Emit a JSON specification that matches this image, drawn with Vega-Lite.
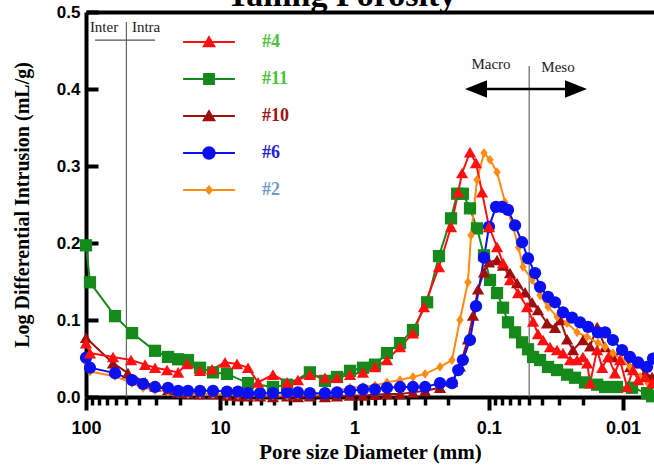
{
  "$schema": "https://vega.github.io/schema/vega-lite/v6.json",
  "width": 568,
  "height": 385,
  "autosize": {"type": "none"},
  "padding": {"left": 86, "top": 12, "right": 0, "bottom": 71},
  "config": {
    "view": {"stroke": null},
    "axis": {"grid": false}
  },
  "datasets": {
    "series": [
      {"s": "#11", "d": 100, "v": 0.197}, {"s": "#11", "d": 93.4, "v": 0.149}, {"s": "#11", "d": 60.8, "v": 0.105}, {"s": "#11", "d": 45.4, "v": 0.083},
      {"s": "#11", "d": 30.6, "v": 0.06}, {"s": "#11", "d": 24.5, "v": 0.052}, {"s": "#11", "d": 20.6, "v": 0.049}, {"s": "#11", "d": 17.4, "v": 0.048},
      {"s": "#11", "d": 14.15, "v": 0.038}, {"s": "#11", "d": 11.32, "v": 0.032}, {"s": "#11", "d": 8.91, "v": 0.03}, {"s": "#11", "d": 6.21, "v": 0.018},
      {"s": "#11", "d": 4.05, "v": 0.013}, {"s": "#11", "d": 3.18, "v": 0.016}, {"s": "#11", "d": 2.15, "v": 0.032}, {"s": "#11", "d": 1.66, "v": 0.021},
      {"s": "#11", "d": 1.35, "v": 0.026}, {"s": "#11", "d": 1.08, "v": 0.034}, {"s": "#11", "d": 0.865, "v": 0.038}, {"s": "#11", "d": 0.704, "v": 0.042},
      {"s": "#11", "d": 0.573, "v": 0.057}, {"s": "#11", "d": 0.458, "v": 0.07}, {"s": "#11", "d": 0.367, "v": 0.087}, {"s": "#11", "d": 0.288, "v": 0.123},
      {"s": "#11", "d": 0.235, "v": 0.183}, {"s": "#11", "d": 0.191, "v": 0.232}, {"s": "#11", "d": 0.172, "v": 0.264}, {"s": "#11", "d": 0.156, "v": 0.264},
      {"s": "#11", "d": 0.138, "v": 0.245}, {"s": "#11", "d": 0.1224, "v": 0.219}, {"s": "#11", "d": 0.1085, "v": 0.184}, {"s": "#11", "d": 0.0979, "v": 0.152},
      {"s": "#11", "d": 0.0868, "v": 0.135}, {"s": "#11", "d": 0.0783, "v": 0.116}, {"s": "#11", "d": 0.0719, "v": 0.097}, {"s": "#11", "d": 0.0637, "v": 0.084},
      {"s": "#11", "d": 0.0565, "v": 0.071}, {"s": "#11", "d": 0.051, "v": 0.062}, {"s": "#11", "d": 0.0468, "v": 0.052}, {"s": "#11", "d": 0.0415, "v": 0.048},
      {"s": "#11", "d": 0.0362, "v": 0.039}, {"s": "#11", "d": 0.031, "v": 0.035}, {"s": "#11", "d": 0.0261, "v": 0.029}, {"s": "#11", "d": 0.0228, "v": 0.025},
      {"s": "#11", "d": 0.0192, "v": 0.019}, {"s": "#11", "d": 0.0156, "v": 0.016}, {"s": "#11", "d": 0.0136, "v": 0.013}, {"s": "#11", "d": 0.0111, "v": 0.013},
      {"s": "#11", "d": 0.00857, "v": 0.012}, {"s": "#11", "d": 0.00662, "v": 0.005}, {"s": "#11", "d": 0.00608, "v": 0.001},

      {"s": "#10", "d": 100, "v": 0.077}, {"s": "#10", "d": 62.9, "v": 0.044}, {"s": "#10", "d": 48.7, "v": 0.031}, {"s": "#10", "d": 36.3, "v": 0.019},
      {"s": "#10", "d": 30.6, "v": 0.014}, {"s": "#10", "d": 24.5, "v": 0.009}, {"s": "#10", "d": 20.6, "v": 0.006}, {"s": "#10", "d": 17.4, "v": 0.005},
      {"s": "#10", "d": 14.15, "v": 0.004}, {"s": "#10", "d": 11.32, "v": 0.004}, {"s": "#10", "d": 8.91, "v": 0.002}, {"s": "#10", "d": 7.38, "v": 0.001},
      {"s": "#10", "d": 6.21, "v": 0.001}, {"s": "#10", "d": 5.06, "v": 0.001}, {"s": "#10", "d": 4.05, "v": 0.0}, {"s": "#10", "d": 3.18, "v": 0.001},
      {"s": "#10", "d": 2.64, "v": 0.0}, {"s": "#10", "d": 2.15, "v": 0.001}, {"s": "#10", "d": 1.66, "v": 0.0}, {"s": "#10", "d": 1.35, "v": 0.001},
      {"s": "#10", "d": 1.08, "v": 0.002}, {"s": "#10", "d": 0.865, "v": 0.002}, {"s": "#10", "d": 0.704, "v": 0.003}, {"s": "#10", "d": 0.573, "v": 0.004},
      {"s": "#10", "d": 0.458, "v": 0.004}, {"s": "#10", "d": 0.367, "v": 0.006}, {"s": "#10", "d": 0.298, "v": 0.008}, {"s": "#10", "d": 0.231, "v": 0.012},
      {"s": "#10", "d": 0.188, "v": 0.02}, {"s": "#10", "d": 0.164, "v": 0.04}, {"s": "#10", "d": 0.143, "v": 0.075}, {"s": "#10", "d": 0.131, "v": 0.106},
      {"s": "#10", "d": 0.1202, "v": 0.14}, {"s": "#10", "d": 0.1085, "v": 0.162}, {"s": "#10", "d": 0.0996, "v": 0.175}, {"s": "#10", "d": 0.0868, "v": 0.178},
      {"s": "#10", "d": 0.0783, "v": 0.171}, {"s": "#10", "d": 0.0695, "v": 0.161}, {"s": "#10", "d": 0.0616, "v": 0.148}, {"s": "#10", "d": 0.0537, "v": 0.136},
      {"s": "#10", "d": 0.0476, "v": 0.123}, {"s": "#10", "d": 0.043, "v": 0.113}, {"s": "#10", "d": 0.0368, "v": 0.096}, {"s": "#10", "d": 0.0321, "v": 0.09},
      {"s": "#10", "d": 0.0294, "v": 0.1}, {"s": "#10", "d": 0.0261, "v": 0.075}, {"s": "#10", "d": 0.0236, "v": 0.061}, {"s": "#10", "d": 0.0199, "v": 0.074},
      {"s": "#10", "d": 0.0176, "v": 0.066}, {"s": "#10", "d": 0.0156, "v": 0.091}, {"s": "#10", "d": 0.0136, "v": 0.065}, {"s": "#10", "d": 0.0119, "v": 0.052},
      {"s": "#10", "d": 0.01017, "v": 0.061}, {"s": "#10", "d": 0.00887, "v": 0.039}, {"s": "#10", "d": 0.00786, "v": 0.044}, {"s": "#10", "d": 0.00686, "v": 0.031},
      {"s": "#10", "d": 0.00608, "v": 0.026},

      {"s": "#2", "d": 100, "v": 0.045}, {"s": "#2", "d": 93.4, "v": 0.033}, {"s": "#2", "d": 60.8, "v": 0.027}, {"s": "#2", "d": 45.4, "v": 0.018},
      {"s": "#2", "d": 37.6, "v": 0.012}, {"s": "#2", "d": 30.6, "v": 0.009}, {"s": "#2", "d": 24.5, "v": 0.007}, {"s": "#2", "d": 20.6, "v": 0.005},
      {"s": "#2", "d": 17.4, "v": 0.004}, {"s": "#2", "d": 14.15, "v": 0.004}, {"s": "#2", "d": 11.32, "v": 0.004}, {"s": "#2", "d": 8.91, "v": 0.003},
      {"s": "#2", "d": 7.38, "v": 0.003}, {"s": "#2", "d": 6.21, "v": 0.002}, {"s": "#2", "d": 5.06, "v": 0.002}, {"s": "#2", "d": 4.05, "v": 0.002},
      {"s": "#2", "d": 3.18, "v": 0.002}, {"s": "#2", "d": 2.64, "v": 0.003}, {"s": "#2", "d": 2.15, "v": 0.003}, {"s": "#2", "d": 1.66, "v": 0.004},
      {"s": "#2", "d": 1.35, "v": 0.008}, {"s": "#2", "d": 1.08, "v": 0.012}, {"s": "#2", "d": 0.865, "v": 0.013}, {"s": "#2", "d": 0.704, "v": 0.015},
      {"s": "#2", "d": 0.573, "v": 0.019}, {"s": "#2", "d": 0.458, "v": 0.022}, {"s": "#2", "d": 0.367, "v": 0.026}, {"s": "#2", "d": 0.298, "v": 0.03},
      {"s": "#2", "d": 0.231, "v": 0.039}, {"s": "#2", "d": 0.188, "v": 0.048}, {"s": "#2", "d": 0.164, "v": 0.1}, {"s": "#2", "d": 0.143, "v": 0.149},
      {"s": "#2", "d": 0.1356, "v": 0.21}, {"s": "#2", "d": 0.1224, "v": 0.282}, {"s": "#2", "d": 0.1085, "v": 0.317}, {"s": "#2", "d": 0.0979, "v": 0.308},
      {"s": "#2", "d": 0.0868, "v": 0.292}, {"s": "#2", "d": 0.0757, "v": 0.253}, {"s": "#2", "d": 0.066, "v": 0.221}, {"s": "#2", "d": 0.06, "v": 0.194},
      {"s": "#2", "d": 0.0556, "v": 0.169}, {"s": "#2", "d": 0.0476, "v": 0.152}, {"s": "#2", "d": 0.0415, "v": 0.132}, {"s": "#2", "d": 0.0362, "v": 0.117},
      {"s": "#2", "d": 0.031, "v": 0.104}, {"s": "#2", "d": 0.0261, "v": 0.096}, {"s": "#2", "d": 0.022, "v": 0.084}, {"s": "#2", "d": 0.0185, "v": 0.078},
      {"s": "#2", "d": 0.0154, "v": 0.07}, {"s": "#2", "d": 0.0136, "v": 0.065}, {"s": "#2", "d": 0.0119, "v": 0.057}, {"s": "#2", "d": 0.01017, "v": 0.048},
      {"s": "#2", "d": 0.00887, "v": 0.039}, {"s": "#2", "d": 0.00747, "v": 0.026}, {"s": "#2", "d": 0.00651, "v": 0.018},

      {"s": "#6", "d": 100, "v": 0.051}, {"s": "#6", "d": 93.4, "v": 0.038}, {"s": "#6", "d": 60.8, "v": 0.031}, {"s": "#6", "d": 45.4, "v": 0.022},
      {"s": "#6", "d": 37.6, "v": 0.017}, {"s": "#6", "d": 30.6, "v": 0.013}, {"s": "#6", "d": 24.5, "v": 0.012}, {"s": "#6", "d": 20.6, "v": 0.008},
      {"s": "#6", "d": 17.4, "v": 0.008}, {"s": "#6", "d": 14.15, "v": 0.008}, {"s": "#6", "d": 11.32, "v": 0.008}, {"s": "#6", "d": 8.91, "v": 0.007},
      {"s": "#6", "d": 7.38, "v": 0.007}, {"s": "#6", "d": 6.21, "v": 0.005}, {"s": "#6", "d": 5.06, "v": 0.005}, {"s": "#6", "d": 4.05, "v": 0.005},
      {"s": "#6", "d": 3.18, "v": 0.006}, {"s": "#6", "d": 2.64, "v": 0.006}, {"s": "#6", "d": 2.15, "v": 0.005}, {"s": "#6", "d": 1.66, "v": 0.005},
      {"s": "#6", "d": 1.35, "v": 0.006}, {"s": "#6", "d": 1.08, "v": 0.008}, {"s": "#6", "d": 0.865, "v": 0.01}, {"s": "#6", "d": 0.704, "v": 0.01},
      {"s": "#6", "d": 0.573, "v": 0.012}, {"s": "#6", "d": 0.458, "v": 0.013}, {"s": "#6", "d": 0.367, "v": 0.013}, {"s": "#6", "d": 0.298, "v": 0.013},
      {"s": "#6", "d": 0.231, "v": 0.018}, {"s": "#6", "d": 0.188, "v": 0.018}, {"s": "#6", "d": 0.169, "v": 0.035}, {"s": "#6", "d": 0.156, "v": 0.048},
      {"s": "#6", "d": 0.138, "v": 0.074}, {"s": "#6", "d": 0.1245, "v": 0.118}, {"s": "#6", "d": 0.1085, "v": 0.181}, {"s": "#6", "d": 0.0996, "v": 0.221},
      {"s": "#6", "d": 0.0883, "v": 0.247}, {"s": "#6", "d": 0.0796, "v": 0.247}, {"s": "#6", "d": 0.0719, "v": 0.243}, {"s": "#6", "d": 0.0637, "v": 0.223},
      {"s": "#6", "d": 0.0565, "v": 0.201}, {"s": "#6", "d": 0.051, "v": 0.18}, {"s": "#6", "d": 0.0452, "v": 0.161}, {"s": "#6", "d": 0.0415, "v": 0.143},
      {"s": "#6", "d": 0.0362, "v": 0.13}, {"s": "#6", "d": 0.0321, "v": 0.123}, {"s": "#6", "d": 0.028, "v": 0.11}, {"s": "#6", "d": 0.024, "v": 0.103},
      {"s": "#6", "d": 0.0209, "v": 0.097}, {"s": "#6", "d": 0.0182, "v": 0.091}, {"s": "#6", "d": 0.0154, "v": 0.084}, {"s": "#6", "d": 0.0136, "v": 0.084},
      {"s": "#6", "d": 0.0119, "v": 0.074}, {"s": "#6", "d": 0.01017, "v": 0.061}, {"s": "#6", "d": 0.00887, "v": 0.052}, {"s": "#6", "d": 0.00773, "v": 0.045},
      {"s": "#6", "d": 0.00662, "v": 0.039}, {"s": "#6", "d": 0.00598, "v": 0.05},

      {"s": "#4", "d": 100, "v": 0.07}, {"s": "#4", "d": 93.4, "v": 0.057}, {"s": "#4", "d": 62.9, "v": 0.052}, {"s": "#4", "d": 46.2, "v": 0.048},
      {"s": "#4", "d": 36.3, "v": 0.042}, {"s": "#4", "d": 30.6, "v": 0.038}, {"s": "#4", "d": 24.9, "v": 0.035}, {"s": "#4", "d": 20.6, "v": 0.032},
      {"s": "#4", "d": 17.7, "v": 0.043}, {"s": "#4", "d": 14.15, "v": 0.034}, {"s": "#4", "d": 11.52, "v": 0.036}, {"s": "#4", "d": 9.22, "v": 0.045},
      {"s": "#4", "d": 7.5, "v": 0.043}, {"s": "#4", "d": 6.21, "v": 0.038}, {"s": "#4", "d": 5.23, "v": 0.019}, {"s": "#4", "d": 4.05, "v": 0.029},
      {"s": "#4", "d": 3.18, "v": 0.019}, {"s": "#4", "d": 2.64, "v": 0.022}, {"s": "#4", "d": 2.15, "v": 0.029}, {"s": "#4", "d": 1.66, "v": 0.025},
      {"s": "#4", "d": 1.35, "v": 0.025}, {"s": "#4", "d": 1.08, "v": 0.029}, {"s": "#4", "d": 0.865, "v": 0.032}, {"s": "#4", "d": 0.704, "v": 0.039},
      {"s": "#4", "d": 0.573, "v": 0.048}, {"s": "#4", "d": 0.458, "v": 0.065}, {"s": "#4", "d": 0.367, "v": 0.083}, {"s": "#4", "d": 0.304, "v": 0.117},
      {"s": "#4", "d": 0.235, "v": 0.169}, {"s": "#4", "d": 0.191, "v": 0.221}, {"s": "#4", "d": 0.169, "v": 0.266}, {"s": "#4", "d": 0.158, "v": 0.291},
      {"s": "#4", "d": 0.138, "v": 0.318}, {"s": "#4", "d": 0.1245, "v": 0.304}, {"s": "#4", "d": 0.1123, "v": 0.266}, {"s": "#4", "d": 0.0996, "v": 0.221},
      {"s": "#4", "d": 0.0868, "v": 0.195}, {"s": "#4", "d": 0.0783, "v": 0.174}, {"s": "#4", "d": 0.0695, "v": 0.152}, {"s": "#4", "d": 0.0605, "v": 0.135},
      {"s": "#4", "d": 0.0519, "v": 0.117}, {"s": "#4", "d": 0.0468, "v": 0.098}, {"s": "#4", "d": 0.043, "v": 0.082}, {"s": "#4", "d": 0.0394, "v": 0.074},
      {"s": "#4", "d": 0.035, "v": 0.065}, {"s": "#4", "d": 0.031, "v": 0.061}, {"s": "#4", "d": 0.028, "v": 0.057}, {"s": "#4", "d": 0.0248, "v": 0.048},
      {"s": "#4", "d": 0.022, "v": 0.048}, {"s": "#4", "d": 0.0199, "v": 0.052}, {"s": "#4", "d": 0.0185, "v": 0.044}, {"s": "#4", "d": 0.0176, "v": 0.018},
      {"s": "#4", "d": 0.0156, "v": 0.061}, {"s": "#4", "d": 0.0143, "v": 0.038}, {"s": "#4", "d": 0.0129, "v": 0.052}, {"s": "#4", "d": 0.0115, "v": 0.031},
      {"s": "#4", "d": 0.01053, "v": 0.048}, {"s": "#4", "d": 0.00934, "v": 0.013}, {"s": "#4", "d": 0.00842, "v": 0.035}, {"s": "#4", "d": 0.00773, "v": 0.022},
      {"s": "#4", "d": 0.00686, "v": 0.026}, {"s": "#4", "d": 0.00608, "v": 0.018}
    ],
    "dividers": [
      {"d": 50, "lo": 0, "hi": 0.487},
      {"d": 0.05, "lo": 0, "hi": 0.43}
    ],
    "underline": [
      {"from": 85.7, "to": 30.6, "v": 0.4636}
    ],
    "arrowShaft": [
      {"from": 0.1245, "to": 0.0224, "v": 0.4}
    ],
    "arrowLeft": [
      {"d": 0.1245, "v": 0.4}
    ],
    "arrowRight": [
      {"d": 0.0224, "v": 0.4}
    ],
    "notes": [
      {"t": "Inter", "d": 73.4, "v": 0.481},
      {"t": "Intra", "d": 35.7, "v": 0.481},
      {"t": "Macro", "d": 0.0962, "v": 0.432},
      {"t": "Meso", "d": 0.0305, "v": 0.429}
    ]
  },
  "layer": [
    {
      "data": {"name": "dividers"},
      "mark": {"type": "rule", "color": "#666666", "strokeWidth": 1.2},
      "encoding": {
        "x": {
          "field": "d", "type": "quantitative",
          "scale": {"type": "log", "domain": [0.00588, 100], "reverse": true, "nice": false},
          "axis": {
            "orient": "top", "ticks": false, "labels": false,
            "domainColor": "black", "domainWidth": 4,
            "title": "Tailing Porosity",
            "titleFont": "Liberation Serif", "titleFontSize": 34, "titleFontWeight": "bold", "titleColor": "black",
            "titleX": 255, "titleY": -7, "titleAlign": "center", "titleBaseline": "alphabetic", "titleAngle": 0
          }
        },
        "y": {"field": "lo", "type": "quantitative", "scale": {"domain": [0, 0.5], "nice": false}, "axis": null},
        "y2": {"field": "hi"}
      }
    },
    {
      "data": {"name": "underline"},
      "mark": {"type": "rule", "color": "#555555", "strokeWidth": 1.2},
      "encoding": {
        "x": {"field": "from", "type": "quantitative", "axis": null},
        "x2": {"field": "to"},
        "y": {"field": "v", "type": "quantitative", "axis": null}
      }
    },
    {
      "data": {"name": "arrowShaft"},
      "mark": {"type": "rule", "color": "black", "strokeWidth": 2.5},
      "encoding": {
        "x": {"field": "from", "type": "quantitative", "axis": null},
        "x2": {"field": "to"},
        "y": {"field": "v", "type": "quantitative", "axis": null}
      }
    },
    {
      "data": {"name": "arrowLeft"},
      "mark": {"type": "point", "filled": true, "color": "black", "opacity": 1, "size": 484, "shape": "M-1,0 L1,-0.8 L1,0.8 Z"},
      "encoding": {
        "x": {"field": "d", "type": "quantitative", "axis": null},
        "y": {"field": "v", "type": "quantitative", "axis": null}
      }
    },
    {
      "data": {"name": "arrowRight"},
      "mark": {"type": "point", "filled": true, "color": "black", "opacity": 1, "size": 484, "shape": "M1,0 L-1,-0.8 L-1,0.8 Z"},
      "encoding": {
        "x": {"field": "d", "type": "quantitative", "axis": null},
        "y": {"field": "v", "type": "quantitative", "axis": null}
      }
    },
    {
      "data": {"name": "notes"},
      "mark": {"type": "text", "font": "Liberation Serif", "fontSize": 15, "color": "#222222"},
      "encoding": {
        "x": {"field": "d", "type": "quantitative", "axis": null},
        "y": {"field": "v", "type": "quantitative", "axis": null},
        "text": {"field": "t"}
      }
    },
    {
      "data": {"name": "series"},
      "mark": {"type": "line", "strokeWidth": 2},
      "encoding": {
        "x": {
          "field": "d", "type": "quantitative",
          "axis": {
            "orient": "bottom",
            "values": [100, 10, 1, 0.1, 0.01],
            "format": "~g",
            "title": "Pore size Diameter (mm)",
            "titleFont": "Liberation Serif", "titleFontSize": 21, "titleFontWeight": "bold", "titleColor": "black", "titlePadding": 4,
            "labelFont": "Liberation Sans", "labelFontSize": 18, "labelFontWeight": "bold", "labelColor": "black", "labelPadding": 9,
            "tickSize": 13, "tickWidth": 4, "tickColor": "black",
            "domainWidth": 4, "domainColor": "black", "labelFlush": false
          }
        },
        "y": {
          "field": "v", "type": "quantitative",
          "axis": {
            "values": [0, 0.1, 0.2, 0.3, 0.4, 0.5],
            "format": ".1f",
            "title": "Log Differential Intrusion (mL/g)",
            "titleFont": "Liberation Serif", "titleFontSize": 20, "titleFontWeight": "bold", "titleColor": "black", "titlePadding": 24,
            "labelFont": "Liberation Sans", "labelFontSize": 17, "labelFontWeight": "bold", "labelColor": "black", "labelPadding": 18,
            "tickSize": -12, "tickWidth": 4, "tickColor": "black",
            "domainWidth": 4, "domainColor": "black", "labelFlush": false
          }
        },
        "color": {
          "field": "s", "type": "nominal", "legend": null,
          "scale": {"domain": ["#4", "#11", "#10", "#6", "#2"], "range": ["#ff1010", "#15891a", "#a00d0d", "#0a10f0", "#ff8a14"]}
        },
        "detail": {"field": "s"}
      }
    },
    {
      "data": {"name": "series"},
      "mark": {"type": "point", "filled": true, "opacity": 1, "size": 150},
      "encoding": {
        "x": {
          "field": "d", "type": "quantitative",
          "axis": {
            "orient": "bottom",
            "values": [90, 80, 70, 60, 50, 40, 30, 20, 9, 8, 7, 6, 5, 4, 3, 2, 0.9, 0.8, 0.7, 0.6, 0.5, 0.4, 0.3, 0.2, 0.09, 0.08, 0.07, 0.06, 0.05, 0.04, 0.03, 0.02],
            "labels": false, "title": null, "domain": false,
            "tickSize": 8, "tickWidth": 3.5, "tickColor": "black"
          }
        },
        "y": {"field": "v", "type": "quantitative", "axis": null},
        "color": {
          "field": "s", "type": "nominal",
          "legend": {
            "orient": "none", "legendX": 114, "legendY": 21, "title": null, "padding": 0,
            "symbolSize": 196, "symbolStrokeWidth": 0, "symbolOpacity": 1,
            "symbolType": {"expr": "datum.value === '#11' ? 'M-3.7,-0.14 L3.7,-0.14 L3.7,0.14 L-3.7,0.14 Z M-0.85,-0.85 L0.85,-0.85 L0.85,0.85 L-0.85,0.85 Z' : datum.value === '#6' ? 'M-3.7,-0.14 L3.7,-0.14 L3.7,0.14 L-3.7,0.14 Z M-0.95,0 A0.95,0.95 0 1,1 0.95,0 A0.95,0.95 0 1,1 -0.95,0 Z' : datum.value === '#2' ? 'M-3.7,-0.14 L3.7,-0.14 L3.7,0.14 L-3.7,0.14 Z M0,-0.7 L0.6,0 L0,0.7 L-0.6,0 Z' : 'M-3.7,-0.14 L3.7,-0.14 L3.7,0.14 L-3.7,0.14 Z M0,-0.95 L1,0.75 L-1,0.75 Z'"},
            "labelFont": "Liberation Serif", "labelFontSize": 18, "labelFontWeight": "bold",
            "labelColor": {"expr": "datum.value === '#10' ? '#a01414' : datum.value === '#6' ? '#1f1fd6' : datum.value === '#2' ? '#6f9bcb' : '#4cc23a'"},
            "labelOffset": 44, "rowPadding": 19
          }
        },
        "shape": {
          "field": "s", "type": "nominal", "legend": null,
          "scale": {"domain": ["#4", "#11", "#10", "#6", "#2"], "range": ["triangle-up", "square", "triangle-up", "circle", "M0,-0.8 L0.6,0 L0,0.8 L-0.6,0 Z"]}
        }
      }
    }
  ],
  "resolve": {
    "axis": {"x": "independent", "y": "independent"},
    "legend": {"color": "independent"}
  }
}
